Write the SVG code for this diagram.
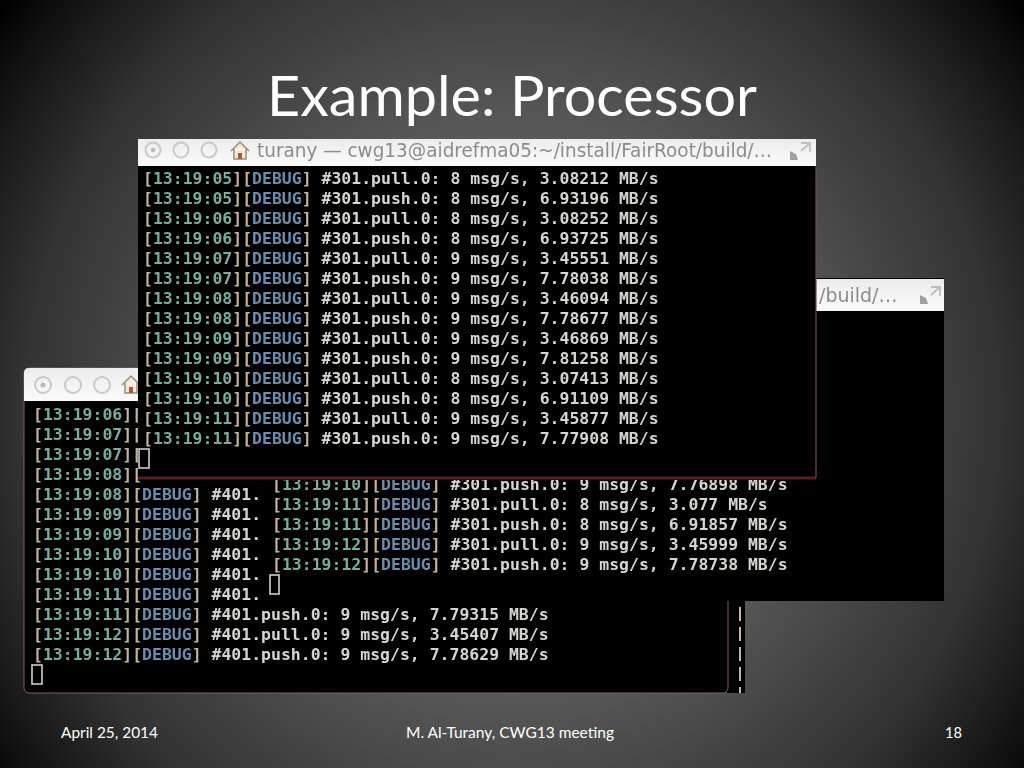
<svg xmlns="http://www.w3.org/2000/svg" width="1024" height="768" viewBox="0 0 1024 768">
<style>
.t{font-family:"DejaVu Sans Mono","Liberation Mono",monospace;font-size:16.48px;font-weight:700;fill:#d6d6d0;filter:url(#soft);white-space:pre}
.a{fill:#79ad9f}.b{fill:#6b8fae}.k{fill:#c2b59b}
.f{font-family:Lato,"Open Sans",sans-serif;font-size:15.5px;fill:#fff}
.tb{fill:url(#bar)}
.tt{font-family:"DejaVu Sans",sans-serif;font-size:19px;fill:#8c8c8c;filter:url(#soft)}
.c{fill:none;stroke:#c9c9c9;stroke-width:2}
.cur{fill:none;stroke:#cfcfc8;stroke-width:1.6}
</style>
<defs>
<radialGradient id="bg" gradientUnits="userSpaceOnUse" cx="512" cy="410" r="650">
<stop offset="0" stop-color="#6e6e6e"/><stop offset=".45" stop-color="#575757"/><stop offset=".75" stop-color="#333"/><stop offset=".95" stop-color="#0c0c0c"/><stop offset="1" stop-color="#000"/>
</radialGradient>
<linearGradient id="bar" x1="0" y1="0" x2="0" y2="1"><stop offset="0" stop-color="#ececec"/><stop offset="1" stop-color="#fbfbfb"/></linearGradient>
<filter id="soft" x="-2%" y="-20%" width="104%" height="140%"><feGaussianBlur stdDeviation="0.4"/></filter>
<g id="home"><path d="M-9 0L0-9L9 0M-6-2V8H6V-2" fill="#f3ead8" stroke="#9a8f78" stroke-width="1.5"/><rect x="-2" y="2" width="4" height="6" fill="#a9593f"/></g>
<g id="exp"><path d="M-10 9V0L-4 3L-2 9Z" fill="#a0a0a0"/><path d="M1-8H10V1M10-8L1 0" fill="none" stroke="#bdbdbd" stroke-width="1.8"/></g>
</defs>
<rect id="background" width="1024" height="768" fill="url(#bg)"/>
<text id="title" x="267" y="116" textLength="490" lengthAdjust="spacingAndGlyphs" font-family="Lato, Open Sans, sans-serif" font-size="57" fill="#fff">Example: Processor</text>

<g id="window-back"><rect x="727" y="600" width="18" height="93" fill="#000"/>
<g fill="#c2b59b"><rect x="739" y="607" width="2" height="14"/><rect x="739" y="627" width="2" height="14"/><rect x="739" y="647" width="2" height="14"/><rect x="739" y="667" width="2" height="14"/><rect x="739" y="687" width="2" height="6"/></g></g>

<g id="window-left">
<rect x="24" y="368" width="704" height="325" rx="5" fill="#000" stroke="#8a5a58"/>
<path class="tb" d="M24 401V373Q24 368 29 368H261V401Z"/>
<circle class="c" cx="43" cy="385" r="8"/><circle cx="43" cy="385" r="2.5" fill="#bbb"/><circle class="c" cx="73" cy="385" r="8"/><circle class="c" cx="102" cy="385" r="8"/>
<use href="#home" x="131" y="385"/>
<text class="t" x="33" y="420"><tspan class="k">[</tspan><tspan class="a">13:19:06</tspan><tspan class="k">][</tspan></text>
<text class="t" x="33" y="440"><tspan class="k">[</tspan><tspan class="a">13:19:07</tspan><tspan class="k">][</tspan></text>
<text class="t" x="33" y="460"><tspan class="k">[</tspan><tspan class="a">13:19:07</tspan><tspan class="k">][</tspan></text>
<text class="t" x="33" y="480"><tspan class="k">[</tspan><tspan class="a">13:19:08</tspan><tspan class="k">][</tspan></text>
<text class="t" x="33" y="500"><tspan class="k">[</tspan><tspan class="a">13:19:08</tspan><tspan class="k">][</tspan><tspan class="b">DEBUG</tspan><tspan class="k">]</tspan> #401.</text>
<text class="t" x="33" y="520"><tspan class="k">[</tspan><tspan class="a">13:19:09</tspan><tspan class="k">][</tspan><tspan class="b">DEBUG</tspan><tspan class="k">]</tspan> #401.</text>
<text class="t" x="33" y="540"><tspan class="k">[</tspan><tspan class="a">13:19:09</tspan><tspan class="k">][</tspan><tspan class="b">DEBUG</tspan><tspan class="k">]</tspan> #401.</text>
<text class="t" x="33" y="560"><tspan class="k">[</tspan><tspan class="a">13:19:10</tspan><tspan class="k">][</tspan><tspan class="b">DEBUG</tspan><tspan class="k">]</tspan> #401.</text>
<text class="t" x="33" y="580"><tspan class="k">[</tspan><tspan class="a">13:19:10</tspan><tspan class="k">][</tspan><tspan class="b">DEBUG</tspan><tspan class="k">]</tspan> #401.</text>
<text class="t" x="33" y="600"><tspan class="k">[</tspan><tspan class="a">13:19:11</tspan><tspan class="k">][</tspan><tspan class="b">DEBUG</tspan><tspan class="k">]</tspan> #401.</text>
<text class="t" x="33" y="620"><tspan class="k">[</tspan><tspan class="a">13:19:11</tspan><tspan class="k">][</tspan><tspan class="b">DEBUG</tspan><tspan class="k">]</tspan> #401.push.0: 9 msg/s, 7.79315 MB/s</text>
<text class="t" x="33" y="640"><tspan class="k">[</tspan><tspan class="a">13:19:12</tspan><tspan class="k">][</tspan><tspan class="b">DEBUG</tspan><tspan class="k">]</tspan> #401.pull.0: 9 msg/s, 3.45407 MB/s</text>
<text class="t" x="33" y="660"><tspan class="k">[</tspan><tspan class="a">13:19:12</tspan><tspan class="k">][</tspan><tspan class="b">DEBUG</tspan><tspan class="k">]</tspan> #401.push.0: 9 msg/s, 7.78629 MB/s</text>
<rect class="cur" x="32" y="665" width="10" height="19"/>
</g>

<g id="window-middle">
<rect x="261" y="278" width="683" height="323" fill="#000"/>
<rect class="tb" x="816" y="279" width="128" height="32"/>
<text class="tt" x="819" y="302">/build/…</text>
<use href="#exp" x="930" y="295"/>
<text class="t" x="272" y="490"><tspan class="k">[</tspan><tspan class="a">13:19:10</tspan><tspan class="k">][</tspan><tspan class="b">DEBUG</tspan><tspan class="k">]</tspan> #301.push.0: 9 msg/s, 7.76898 MB/s</text>
<text class="t" x="272" y="510"><tspan class="k">[</tspan><tspan class="a">13:19:11</tspan><tspan class="k">][</tspan><tspan class="b">DEBUG</tspan><tspan class="k">]</tspan> #301.pull.0: 8 msg/s, 3.077 MB/s</text>
<text class="t" x="272" y="530"><tspan class="k">[</tspan><tspan class="a">13:19:11</tspan><tspan class="k">][</tspan><tspan class="b">DEBUG</tspan><tspan class="k">]</tspan> #301.push.0: 8 msg/s, 6.91857 MB/s</text>
<text class="t" x="272" y="550"><tspan class="k">[</tspan><tspan class="a">13:19:12</tspan><tspan class="k">][</tspan><tspan class="b">DEBUG</tspan><tspan class="k">]</tspan> #301.pull.0: 9 msg/s, 3.45999 MB/s</text>
<text class="t" x="272" y="570"><tspan class="k">[</tspan><tspan class="a">13:19:12</tspan><tspan class="k">][</tspan><tspan class="b">DEBUG</tspan><tspan class="k">]</tspan> #301.push.0: 9 msg/s, 7.78738 MB/s</text>
<rect class="cur" x="270" y="575" width="9" height="19"/>
</g>

<g id="window-top">
<rect x="138" y="139" width="678" height="341" fill="#000"/>
<path d="M138 478H816" stroke="#5c1c22" stroke-width="3"/>
<path d="M816 166V478" stroke="#7a4a4e" stroke-width="1.2"/>
<rect class="tb" x="138" y="139" width="678" height="27"/>
<circle class="c" cx="153" cy="150" r="7.5"/><circle cx="153" cy="150" r="2.3" fill="#bbb"/><circle class="c" cx="181" cy="150" r="7.5"/><circle class="c" cx="209" cy="150" r="7.5"/>
<use href="#home" x="240" y="151"/>
<text class="tt" x="257" y="157" textLength="515" lengthAdjust="spacingAndGlyphs">turany — cwg13@aidrefma05:~/install/FairRoot/build/…</text>
<use href="#exp" x="800" y="151"/>
<text class="t" x="143" y="184"><tspan class="k">[</tspan><tspan class="a">13:19:05</tspan><tspan class="k">][</tspan><tspan class="b">DEBUG</tspan><tspan class="k">]</tspan> #301.pull.0: 8 msg/s, 3.08212 MB/s</text>
<text class="t" x="143" y="204"><tspan class="k">[</tspan><tspan class="a">13:19:05</tspan><tspan class="k">][</tspan><tspan class="b">DEBUG</tspan><tspan class="k">]</tspan> #301.push.0: 8 msg/s, 6.93196 MB/s</text>
<text class="t" x="143" y="224"><tspan class="k">[</tspan><tspan class="a">13:19:06</tspan><tspan class="k">][</tspan><tspan class="b">DEBUG</tspan><tspan class="k">]</tspan> #301.pull.0: 8 msg/s, 3.08252 MB/s</text>
<text class="t" x="143" y="244"><tspan class="k">[</tspan><tspan class="a">13:19:06</tspan><tspan class="k">][</tspan><tspan class="b">DEBUG</tspan><tspan class="k">]</tspan> #301.push.0: 8 msg/s, 6.93725 MB/s</text>
<text class="t" x="143" y="264"><tspan class="k">[</tspan><tspan class="a">13:19:07</tspan><tspan class="k">][</tspan><tspan class="b">DEBUG</tspan><tspan class="k">]</tspan> #301.pull.0: 9 msg/s, 3.45551 MB/s</text>
<text class="t" x="143" y="284"><tspan class="k">[</tspan><tspan class="a">13:19:07</tspan><tspan class="k">][</tspan><tspan class="b">DEBUG</tspan><tspan class="k">]</tspan> #301.push.0: 9 msg/s, 7.78038 MB/s</text>
<text class="t" x="143" y="304"><tspan class="k">[</tspan><tspan class="a">13:19:08</tspan><tspan class="k">][</tspan><tspan class="b">DEBUG</tspan><tspan class="k">]</tspan> #301.pull.0: 9 msg/s, 3.46094 MB/s</text>
<text class="t" x="143" y="324"><tspan class="k">[</tspan><tspan class="a">13:19:08</tspan><tspan class="k">][</tspan><tspan class="b">DEBUG</tspan><tspan class="k">]</tspan> #301.push.0: 9 msg/s, 7.78677 MB/s</text>
<text class="t" x="143" y="344"><tspan class="k">[</tspan><tspan class="a">13:19:09</tspan><tspan class="k">][</tspan><tspan class="b">DEBUG</tspan><tspan class="k">]</tspan> #301.pull.0: 9 msg/s, 3.46869 MB/s</text>
<text class="t" x="143" y="364"><tspan class="k">[</tspan><tspan class="a">13:19:09</tspan><tspan class="k">][</tspan><tspan class="b">DEBUG</tspan><tspan class="k">]</tspan> #301.push.0: 9 msg/s, 7.81258 MB/s</text>
<text class="t" x="143" y="384"><tspan class="k">[</tspan><tspan class="a">13:19:10</tspan><tspan class="k">][</tspan><tspan class="b">DEBUG</tspan><tspan class="k">]</tspan> #301.pull.0: 8 msg/s, 3.07413 MB/s</text>
<text class="t" x="143" y="404"><tspan class="k">[</tspan><tspan class="a">13:19:10</tspan><tspan class="k">][</tspan><tspan class="b">DEBUG</tspan><tspan class="k">]</tspan> #301.push.0: 8 msg/s, 6.91109 MB/s</text>
<text class="t" x="143" y="424"><tspan class="k">[</tspan><tspan class="a">13:19:11</tspan><tspan class="k">][</tspan><tspan class="b">DEBUG</tspan><tspan class="k">]</tspan> #301.pull.0: 9 msg/s, 3.45877 MB/s</text>
<text class="t" x="143" y="444"><tspan class="k">[</tspan><tspan class="a">13:19:11</tspan><tspan class="k">][</tspan><tspan class="b">DEBUG</tspan><tspan class="k">]</tspan> #301.push.0: 9 msg/s, 7.77908 MB/s</text>
<rect class="cur" x="139" y="449" width="10" height="19"/>
</g>

<g id="footer">
<text class="f" x="61" y="738" textLength="97" lengthAdjust="spacingAndGlyphs">April 25, 2014</text>
<text class="f" x="406" y="738" textLength="208" lengthAdjust="spacingAndGlyphs">M. Al-Turany, CWG13 meeting</text>
<text class="f" x="945" y="738" textLength="17" lengthAdjust="spacingAndGlyphs">18</text>
</g>
</svg>
